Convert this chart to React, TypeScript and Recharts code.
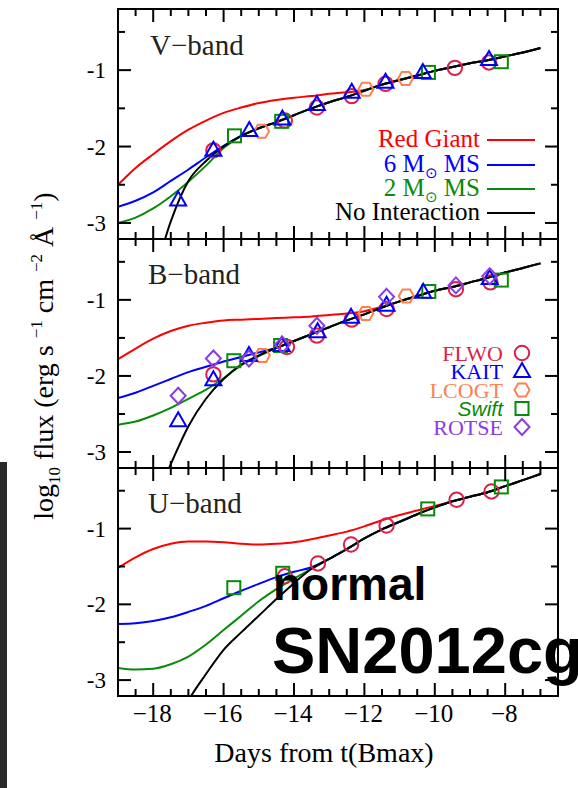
import React from 'react'
import { ComposedChart, Line, Scatter, XAxis, YAxis } from 'recharts'

// page / frame geometry
const PAGE_W = 578
const PAGE_H = 788
const PLOT_LEFT = 118
const PLOT_RIGHT = 558
const Y_AXIS_W = 40

const X_DOMAIN: [number, number] = [-19, -6.5]
const Y_DOMAIN: [number, number] = [-3.21, -0.2]
const X_TICKS = [-18.5, -18, -17.5, -17, -16.5, -16, -15.5, -15, -14.5, -14, -13.5, -13, -12.5, -12, -11.5, -11, -10.5, -10, -9.5, -9, -8.5, -8, -7.5, -7]
const Y_TICKS = [-3, -2.5, -2, -1.5, -1, -0.5]

// model curves sampled on a common day grid
const DAYS = [-19, -18.5, -18, -17.5, -17, -16.5, -16, -15.5, -15, -14.5, -14, -13.5, -13, -12.5, -12, -11.5, -11, -10.5, -10, -9.5, -9, -8.5, -8, -7.5, -7]

const vRedGiant = [-2.5, -2.28, -2.1, -1.93, -1.78, -1.66, -1.56, -1.49, -1.43, -1.39, -1.36, -1.34, -1.31, -1.29, -1.26, -1.19, -1.13, -1.07, -1.01, -0.96, -0.91, -0.87, -0.82, -0.77, -0.71]
const v6MS = [-2.79, -2.71, -2.6, -2.45, -2.3, -2.14, -1.99, -1.86, -1.76, -1.68, -1.59, -1.5, -1.42, -1.35, -1.27, -1.19, -1.13, -1.07, -1.01, -0.96, -0.91, -0.87, -0.82, -0.77, -0.71]
const v2MS = [-3.0, -2.93, -2.81, -2.65, -2.46, -2.25, -2.02, -1.86, -1.76, -1.68, -1.59, -1.5, -1.42, -1.35, -1.27, -1.19, -1.13, -1.07, -1.01, -0.96, -0.91, -0.87, -0.82, -0.77, -0.71]
const vNoInt = [null, null, -3.75, -2.98, -2.45, -2.19, -2.0, -1.86, -1.76, -1.68, -1.59, -1.5, -1.42, -1.35, -1.27, -1.19, -1.13, -1.07, -1.01, -0.96, -0.91, -0.87, -0.82, -0.77, -0.71]

const bRedGiant = [-1.78, -1.64, -1.51, -1.41, -1.34, -1.3, -1.27, -1.26, -1.25, -1.24, -1.23, -1.22, -1.2, -1.18, -1.15, -1.09, -1.02, -0.95, -0.88, -0.83, -0.77, -0.71, -0.64, -0.58, -0.52]
const b6MS = [-2.29, -2.22, -2.13, -2.04, -1.95, -1.88, -1.81, -1.75, -1.69, -1.63, -1.54, -1.45, -1.36, -1.27, -1.19, -1.1, -1.02, -0.95, -0.88, -0.83, -0.77, -0.71, -0.64, -0.58, -0.52]
const b2MS = [-2.64, -2.6, -2.52, -2.42, -2.3, -2.18, -2.03, -1.86, -1.74, -1.63, -1.54, -1.45, -1.36, -1.27, -1.19, -1.1, -1.02, -0.95, -0.88, -0.83, -0.77, -0.71, -0.64, -0.58, -0.52]
const bNoInt = [null, null, -3.7, -3.16, -2.66, -2.3, -2.04, -1.85, -1.73, -1.63, -1.54, -1.45, -1.36, -1.27, -1.19, -1.1, -1.02, -0.95, -0.88, -0.83, -0.77, -0.71, -0.64, -0.58, -0.52]

const uRedGiant = [-1.52, -1.38, -1.27, -1.2, -1.17, -1.17, -1.18, -1.2, -1.21, -1.2, -1.18, -1.14, -1.09, -1.04, -0.97, -0.89, -0.82, -0.76, -0.7, -0.64, -0.58, -0.52, -0.44, -0.36, -0.28]
const u6MS = [-2.26, -2.25, -2.22, -2.17, -2.1, -2.02, -1.92, -1.82, -1.73, -1.64, -1.57, -1.51, -1.4, -1.27, -1.13, -1.01, -0.91, -0.81, -0.72, -0.64, -0.58, -0.52, -0.44, -0.36, -0.28]
const u2MS = [-2.84, -2.86, -2.85, -2.79, -2.69, -2.53, -2.34, -2.15, -1.96, -1.8, -1.66, -1.53, -1.4, -1.27, -1.13, -1.01, -0.91, -0.81, -0.72, -0.64, -0.58, -0.52, -0.44, -0.36, -0.28]
const uNoInt = [null, null, null, -3.75, -3.27, -2.92, -2.6, -2.37, -2.15, -1.93, -1.72, -1.53, -1.4, -1.27, -1.13, -1.01, -0.91, -0.81, -0.72, -0.64, -0.58, -0.52, -0.44, -0.36, -0.28]

// observations, days from t(Bmax) and log10 flux
const vFlwoDays = [-16.29, -14.26, -13.35, -12.36, -11.4, -9.43, -8.46]
const vFlwo = [-2.05, -1.66, -1.49, -1.34, -1.18, -0.97, -0.9]
const vKaitDays = [-17.29, -16.29, -15.27, -14.33, -13.35, -12.36, -11.4, -10.34, -8.46]
const vKait = [-2.7, -2.05, -1.79, -1.64, -1.45, -1.29, -1.16, -1.03, -0.86]
const vLcogtDays = [-14.92, -11.96, -10.83]
const vLcogt = [-1.8, -1.25, -1.11]
const vSwiftDays = [-15.69, -14.35, -10.18, -8.11]
const vSwift = [-1.86, -1.67, -1.03, -0.89]

const bFlwoDays = [-16.29, -14.2, -13.35, -12.36, -11.37, -9.4, -8.42]
const bFlwo = [-1.98, -1.62, -1.47, -1.26, -1.12, -0.86, -0.77]
const bKaitDays = [-17.29, -16.29, -15.28, -14.35, -13.33, -12.38, -11.37, -10.33, -8.44]
const bKait = [-2.59, -2.05, -1.73, -1.6, -1.42, -1.23, -1.07, -0.9, -0.72]
const bLcogtDays = [-14.9, -11.96, -10.81]
const bLcogt = [-1.73, -1.18, -0.95]
const bSwiftDays = [-15.71, -14.38, -10.17, -8.11]
const bSwift = [-1.8, -1.6, -0.89, -0.74]
const bRotseDays = [-17.29, -16.29, -15.28, -14.33, -13.35, -11.37, -9.4, -8.44]
const bRotse = [-2.26, -1.77, -1.77, -1.59, -1.34, -0.96, -0.81, -0.69]

const uFlwoDays = [-14.26, -13.32, -12.38, -11.37, -9.38, -8.39]
const uFlwo = [-1.63, -1.46, -1.21, -0.96, -0.62, -0.51]
const uSwiftDays = [-15.71, -14.32, -10.2, -8.11]
const uSwift = [-1.78, -1.59, -0.74, -0.45]

const RED = '#ff0000'
const BLUE = '#0000ff'
const GREEN = '#0a8a0a'
const CRIMSON = '#dc1f4a'
const CORAL = '#ff8050'
const PURPLE = '#8a3ee0'

const SERIF = "'Liberation Serif', 'Times New Roman', serif"
const SANS = "'Liberation Sans', Arial, sans-serif"

const zip = (xs: number[], ys: (number | null)[]) => xs.map((d, i) => ({ d, v: ys[i] }))

type Kind = 'circle' | 'triangle' | 'hexagon' | 'square' | 'diamond'

function Marker({ kind, cx, cy, color }: { kind: Kind; cx: number; cy: number; color: string }) {
  const common = { fill: 'none', stroke: color, strokeWidth: 2 }
  if (kind === 'circle') return <circle cx={cx} cy={cy} r={7.2} {...common} />
  if (kind === 'square') return <rect x={cx - 6.5} y={cy - 6.5} width={13} height={13} {...common} />
  let pts: number[][] = []
  if (kind === 'triangle') pts = [[0, -8.5], [8, 5.5], [-8, 5.5]]
  if (kind === 'diamond') pts = [[0, -8], [7.5, 0], [0, 8], [-7.5, 0]]
  if (kind === 'hexagon') pts = [[-7.5, 0], [-3.8, -6.5], [3.8, -6.5], [7.5, 0], [3.8, 6.5], [-3.8, 6.5]]
  return <polygon points={pts.map(([x, y]) => `${cx + x},${cy + y}`).join(' ')} {...common} />
}

const models = [
  { name: 'Red Giant', color: RED },
  { name: '6', color: BLUE },
  { name: '2', color: GREEN },
  { name: 'No Interaction', color: '#000' },
]

const instruments: { name: string; color: string; kind: Kind }[] = [
  { name: 'FLWO', color: CRIMSON, kind: 'circle' },
  { name: 'KAIT', color: BLUE, kind: 'triangle' },
  { name: 'LCOGT', color: CORAL, kind: 'hexagon' },
  { name: 'Swift', color: GREEN, kind: 'square' },
  { name: 'ROTSE', color: PURPLE, kind: 'diamond' },
]

const bands = [
  {
    top: 9, bottom: 239, labels: false,
    curves: [vRedGiant, v6MS, v2MS, vNoInt],
    obs: [
      { kind: 'circle' as Kind, color: CRIMSON, data: zip(vFlwoDays, vFlwo) },
      { kind: 'hexagon' as Kind, color: CORAL, data: zip(vLcogtDays, vLcogt) },
      { kind: 'square' as Kind, color: GREEN, data: zip(vSwiftDays, vSwift) },
      { kind: 'triangle' as Kind, color: BLUE, data: zip(vKaitDays, vKait) },
    ],
  },
  {
    top: 239, bottom: 468, labels: false,
    curves: [bRedGiant, b6MS, b2MS, bNoInt],
    obs: [
      { kind: 'circle' as Kind, color: CRIMSON, data: zip(bFlwoDays, bFlwo) },
      { kind: 'hexagon' as Kind, color: CORAL, data: zip(bLcogtDays, bLcogt) },
      { kind: 'square' as Kind, color: GREEN, data: zip(bSwiftDays, bSwift) },
      { kind: 'triangle' as Kind, color: BLUE, data: zip(bKaitDays, bKait) },
      { kind: 'diamond' as Kind, color: PURPLE, data: zip(bRotseDays, bRotse) },
    ],
  },
  {
    top: 468, bottom: 696, labels: true,
    curves: [uRedGiant, u6MS, u2MS, uNoInt],
    obs: [
      { kind: 'circle' as Kind, color: CRIMSON, data: zip(uFlwoDays, uFlwo) },
      { kind: 'square' as Kind, color: GREEN, data: zip(uSwiftDays, uSwift) },
    ],
  },
]

const frame = { stroke: '#000', strokeWidth: 2, strokeLinecap: 'square' as const }

const xTick = (side: 'top' | 'bottom', labels: boolean) => (p: any) => {
  const v = p.payload.value
  const major = Number.isInteger(v) && v % 2 === 0
  const len = major ? 13 : 7
  return (
    <g>
      <line x1={p.x} y1={p.y} x2={p.x} y2={side === 'bottom' ? p.y - len : p.y + len} stroke="#000" strokeWidth={2} />
      {labels && major && (
        <text x={p.x - 1} y={p.y + 26} textAnchor="middle" fontFamily={SERIF} fontSize={25} fill="#000">
          {'\u2212' + Math.abs(v)}
        </text>
      )}
    </g>
  )
}

const yTick = (side: 'left' | 'right') => (p: any) => {
  const v = p.payload.value
  const major = Number.isInteger(v)
  const len = major ? 13 : 7
  return (
    <g>
      <line x1={p.x} y1={p.y} x2={side === 'left' ? p.x + len : p.x - len} y2={p.y} stroke="#000" strokeWidth={2} />
      {side === 'left' && major && (
        <text x={p.x - 12} y={p.y + 8} textAnchor="end" fontFamily={SERIF} fontSize={23} fill="#000">
          {'-' + Math.abs(v)}
        </text>
      )}
    </g>
  )
}

function Panel({ band }: { band: (typeof bands)[number] }) {
  const margin = {
    top: band.top - 1,
    bottom: PAGE_H - band.bottom - 1,
    left: PLOT_LEFT - Y_AXIS_W,
    right: PAGE_W - PLOT_RIGHT - 1,
  }
  return (
    <div style={{ position: 'absolute', left: 0, top: 0 }}>
      <ComposedChart width={PAGE_W} height={PAGE_H} margin={margin}>
        <XAxis xAxisId="b" dataKey="d" type="number" domain={X_DOMAIN} ticks={X_TICKS} allowDataOverflow
          orientation="bottom" height={1} interval={0} tickLine={false} tickSize={0} tickMargin={0}
          axisLine={frame} tick={xTick('bottom', band.labels)} />
        <XAxis xAxisId="t" dataKey="d" type="number" domain={X_DOMAIN} ticks={X_TICKS} allowDataOverflow
          orientation="top" height={1} interval={0} tickLine={false} tickSize={0} tickMargin={0}
          axisLine={frame} tick={xTick('top', false)} />
        <YAxis yAxisId="l" dataKey="v" type="number" domain={Y_DOMAIN} ticks={Y_TICKS} allowDataOverflow
          orientation="left" width={Y_AXIS_W} interval={0} tickLine={false} tickSize={0} tickMargin={0}
          axisLine={frame} tick={yTick('left')} />
        <YAxis yAxisId="r" dataKey="v" type="number" domain={Y_DOMAIN} ticks={Y_TICKS} allowDataOverflow
          orientation="right" width={1} interval={0} tickLine={false} tickSize={0} tickMargin={0}
          axisLine={frame} tick={yTick('right')} />
        {band.curves.map((vals, i) => (
          <Line key={i} xAxisId="b" yAxisId="l" data={zip(DAYS, vals)} dataKey="v" type="monotone"
            stroke={models[i].color} strokeWidth={2} dot={false} activeDot={false} isAnimationActive={false} />
        ))}
        {band.obs.map((o, i) => (
          <Scatter key={i} xAxisId="b" yAxisId="l" data={o.data} dataKey="v" isAnimationActive={false}
            shape={(p: any) => <Marker kind={o.kind} cx={p.cx} cy={p.cy} color={o.color} />} />
        ))}
      </ComposedChart>
    </div>
  )
}

function Overlay() {
  const bandLabels = [
    { text: 'V\u2212band', x: 150, y: 55 },
    { text: 'B\u2212band', x: 148, y: 284 },
    { text: 'U\u2212band', x: 148, y: 513 },
  ]
  const modelRows = [140, 165, 189, 213]
  const instRows = [353, 371.5, 390, 408.5, 427]
  return (
    <svg width={PAGE_W} height={PAGE_H} style={{ position: 'absolute', left: 0, top: 0, pointerEvents: 'none' }}>
      <rect x={0} y={462} width={7} height={326} fill="#2a2a2a" />
      {bandLabels.map((b) => (
        <text key={b.text} x={b.x} y={b.y} fontFamily={SERIF} fontSize={29} fill="#222">{b.text}</text>
      ))}

      {models.map((m, i) => (
        <g key={m.name}>
          <text x={480} y={modelRows[i] + 7} textAnchor="end" fontFamily={SERIF} fontSize={25} fill={m.color}>
            {m.name === '6' || m.name === '2' ? (
              <>
                {m.name + ' M'}
                <tspan fontSize={15} dy={6}>{'\u2299'}</tspan>
                <tspan dy={-6}>{' MS'}</tspan>
              </>
            ) : m.name}
          </text>
          <line x1={487} x2={535} y1={modelRows[i]} y2={modelRows[i]} stroke={m.color} strokeWidth={2} />
        </g>
      ))}

      {instruments.map((s, i) => (
        <g key={s.name}>
          <text x={503} y={instRows[i] + 7.5} textAnchor="end"
            fontFamily={s.name === 'Swift' ? SANS : SERIF} fontStyle={s.name === 'Swift' ? 'italic' : 'normal'}
            fontSize={s.name === 'Swift' ? 21 : 22} fill={s.color}>{s.name}</text>
          <Marker kind={s.kind} cx={522} cy={instRows[i]} color={s.color} />
        </g>
      ))}

      <text transform="translate(53,356) rotate(-90)" textAnchor="middle" fontFamily={SERIF} fontSize={28} fill="#000">
        log<tspan fontSize={17} dy={7}>10</tspan>
        <tspan dy={-7}>{' flux (erg s '}</tspan>
        <tspan fontSize={17} dy={-11}>{'\u22121'}</tspan>
        <tspan dy={11}>{' cm '}</tspan>
        <tspan fontSize={17} dy={-11}>{'\u22122'}</tspan>
        <tspan dy={11}>{' \u00c5 '}</tspan>
        <tspan fontSize={17} dy={-11}>{'\u22121'}</tspan>
        <tspan dy={11}>)</tspan>
      </text>

      <text x={324} y={762} textAnchor="middle" fontFamily={SERIF} fontSize={28} fill="#000">Days from t(Bmax)</text>

      <text x={273} y={600} fontFamily={SANS} fontWeight="bold" fontSize={46} fill="#000">normal</text>
      <text x={272} y={673} fontFamily={SANS} fontWeight="bold" fontSize={65} fill="#000">SN2012cg</text>
    </svg>
  )
}

export default function App() {
  return (
    <div style={{ position: 'absolute', left: 0, top: 0, width: PAGE_W, height: PAGE_H, background: '#fff' }}>
      {bands.map((b, i) => (
        <Panel key={i} band={b} />
      ))}
      <Overlay />
    </div>
  )
}
